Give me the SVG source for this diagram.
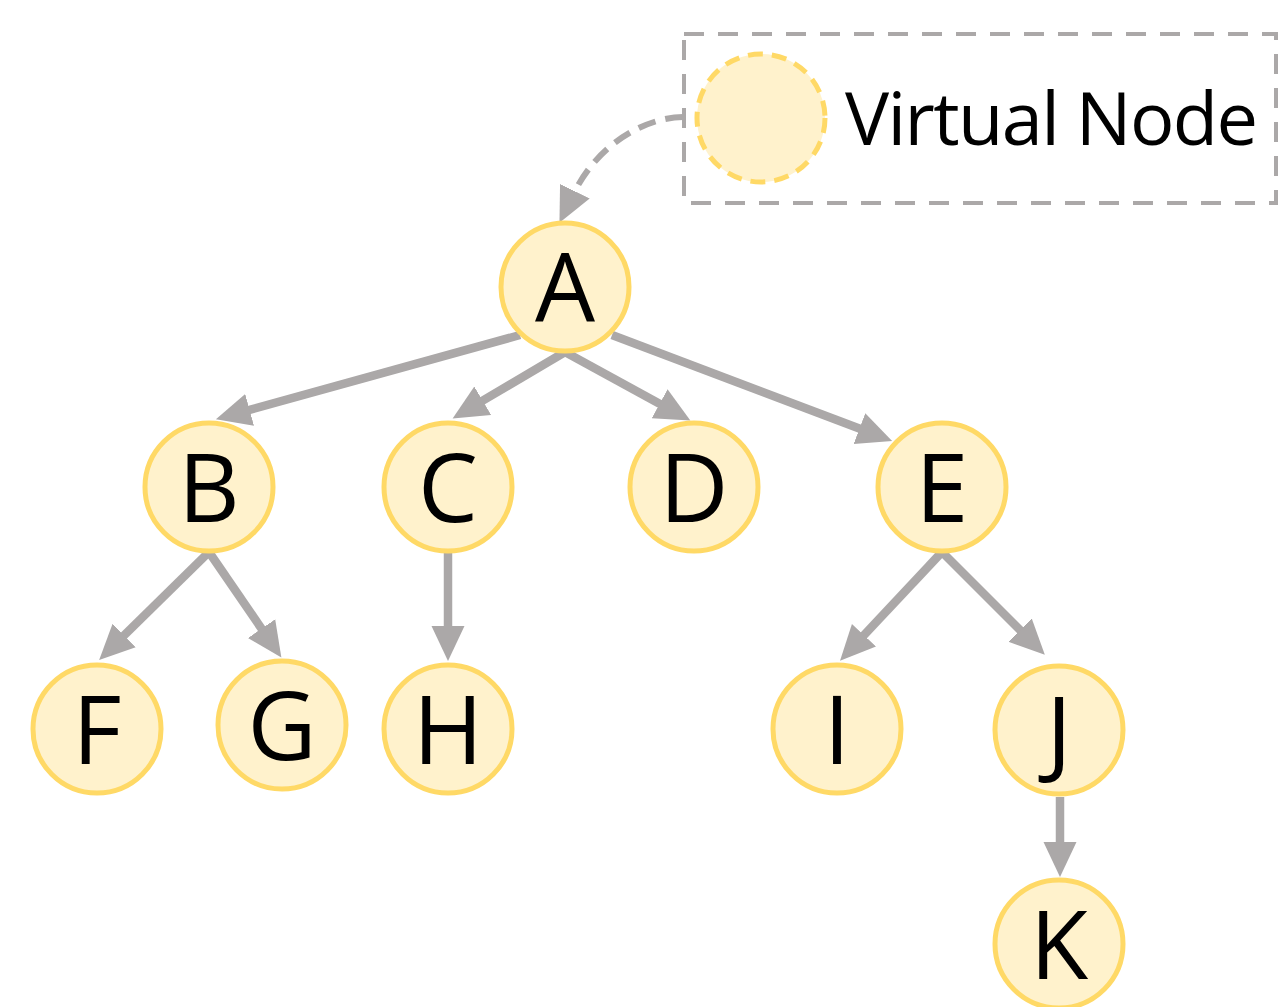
<svg xmlns="http://www.w3.org/2000/svg" width="1278" height="1007" viewBox="0 0 1278 1007">
  <style>
    .node circle { fill: #FFF2CC; stroke: #FFD966; stroke-width: 5; }
    .node text { font-family: "Open Sans", "DejaVu Sans", sans-serif; font-size: 95px; fill: #000; text-anchor: middle; }
    .edge { stroke: #ABA8A8; stroke-width: 8.5; fill: none; }
    .edge.virtual { stroke-width: 6; stroke-dasharray: 18 10; }
    .legend-box { fill: none; stroke: #ABA8A8; stroke-width: 4; stroke-dasharray: 20 14; }
  </style>
  <defs>
    <marker id="arrow" markerUnits="userSpaceOnUse" markerWidth="40" markerHeight="36" viewBox="0 -18 40 36" refX="2" refY="0" orient="auto">
      <path d="M0,-16.5 L35,0 L0,16.5 z" fill="#ABA8A8"/>
    </marker>
  </defs>
  <rect width="1278" height="1007" fill="#fff"/>

  <!-- legend -->
  <g id="legend">
    <rect class="legend-box" x="684" y="34" width="592" height="169"/>
    <circle cx="761" cy="118" r="64" fill="#FFF2CC" stroke="#FFD966" stroke-width="5" stroke-dasharray="15 9"/>
    <text x="845" y="145" font-family="Open Sans, DejaVu Sans, sans-serif" font-size="74" textLength="413" fill="#000">Virtual Node</text>
  </g>

  <!-- connectors -->
  <g id="connectors">
    <path class="edge virtual" d="M683,117 C650,117 600,140 574,193" marker-end="url(#arrow)"/>
    <line class="edge" x1="520" y1="335" x2="247.7" y2="410.4" marker-end="url(#arrow)"/>
    <line class="edge" x1="565" y1="352" x2="481" y2="401.7" marker-end="url(#arrow)"/>
    <line class="edge" x1="565" y1="352" x2="661.4" y2="404.7" marker-end="url(#arrow)"/>
    <line class="edge" x1="612" y1="335" x2="861.3" y2="429.3" marker-end="url(#arrow)"/>
    <line class="edge" x1="209" y1="552" x2="122.7" y2="636.8" marker-end="url(#arrow)"/>
    <line class="edge" x1="209" y1="552" x2="262.7" y2="630.3" marker-end="url(#arrow)"/>
    <line class="edge" x1="448" y1="552" x2="448" y2="628" marker-end="url(#arrow)"/>
    <line class="edge" x1="942" y1="552" x2="862.6" y2="636.7" marker-end="url(#arrow)"/>
    <line class="edge" x1="942" y1="552" x2="1021.5" y2="631.5" marker-end="url(#arrow)"/>
    <line class="edge" x1="1060" y1="797" x2="1060" y2="844" marker-end="url(#arrow)"/>
  </g>

  <!-- nodes -->
  <g id="node-A" class="node"><circle cx="565" cy="287" r="64"/><text x="565" y="322">A</text></g>
  <g id="node-B" class="node"><circle cx="209" cy="487" r="64"/><text x="209" y="522">B</text></g>
  <g id="node-C" class="node"><circle cx="448" cy="487" r="64"/><text x="448" y="522">C</text></g>
  <g id="node-D" class="node"><circle cx="694" cy="487" r="64"/><text x="694" y="522">D</text></g>
  <g id="node-E" class="node"><circle cx="942" cy="487" r="64"/><text x="942" y="522">E</text></g>
  <g id="node-F" class="node"><circle cx="97" cy="729" r="64"/><text x="97" y="764">F</text></g>
  <g id="node-G" class="node"><circle cx="282" cy="725" r="64"/><text x="282" y="760">G</text></g>
  <g id="node-H" class="node"><circle cx="448" cy="729" r="64"/><text x="448" y="764">H</text></g>
  <g id="node-I" class="node"><circle cx="837" cy="729" r="64"/><text x="837" y="764">I</text></g>
  <g id="node-J" class="node"><circle cx="1059" cy="730" r="64"/><text x="1059" y="765">J</text></g>
  <g id="node-K" class="node"><circle cx="1059" cy="944" r="64"/><text x="1059" y="979">K</text></g>
</svg>
